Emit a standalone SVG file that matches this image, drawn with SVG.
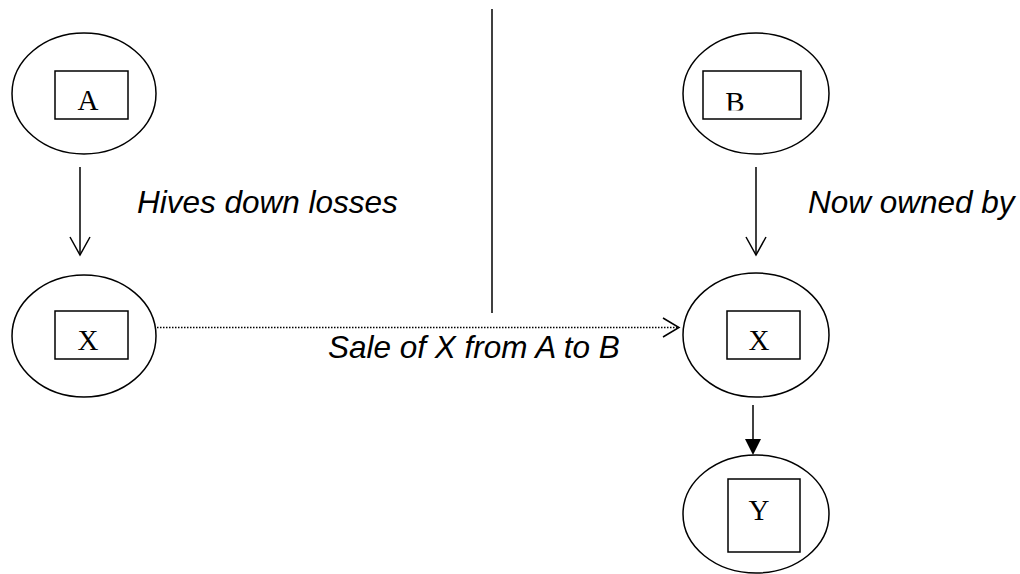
<svg xmlns="http://www.w3.org/2000/svg" width="1020" height="574" viewBox="0 0 1020 574">
<style>
.el{fill:none;stroke:#000;stroke-width:1.5}
.bx{fill:none;stroke:#000;stroke-width:1.5}
.lt{font-family:"Liberation Serif","Times New Roman",serif;font-size:29px;fill:#000;text-anchor:middle}
.lbl{font-family:"Liberation Sans",Arial,sans-serif;font-style:italic;font-size:31.5px;fill:#000}
.ln{fill:none;stroke:#000;stroke-width:1.5}
</style>
<defs>
<clipPath id="clipB"><rect x="700" y="60" width="110" height="50.5"/></clipPath>
</defs>
<rect width="1020" height="574" fill="#fff"/>
<g id="nodeA">
<ellipse class="el" cx="84" cy="93.5" rx="72" ry="60.5"/>
<rect class="bx" x="55" y="71" width="73" height="48"/>
<text class="lt" x="88" y="110">A</text>
</g>
<g id="nodeX1">
<ellipse class="el" cx="84" cy="336" rx="72" ry="61"/>
<rect class="bx" x="55" y="311" width="73" height="48"/>
<text class="lt" x="88" y="350">X</text>
</g>
<g id="nodeB">
<ellipse class="el" cx="756" cy="93.5" rx="73" ry="60.5"/>
<rect class="bx" x="703" y="71" width="98" height="48"/>
<text class="lt" x="735" y="112" clip-path="url(#clipB)">B</text>
</g>
<g id="nodeX2">
<ellipse class="el" cx="756" cy="335" rx="73" ry="62"/>
<rect class="bx" x="727" y="311" width="73" height="48"/>
<text class="lt" x="759" y="350">X</text>
</g>
<g id="nodeY">
<ellipse class="el" cx="756" cy="514" rx="73" ry="59"/>
<rect class="bx" x="728" y="479" width="72" height="73"/>
<text class="lt" x="759" y="520">Y</text>
</g>
<g id="connectors">
<line class="ln" x1="80" y1="167" x2="80" y2="255"/>
<polyline class="ln" points="70,237 80,255 90,237"/>
<line class="ln" x1="756" y1="167" x2="756" y2="255"/>
<polyline class="ln" points="746,237 756,255 766,237"/>
<line x1="157" y1="327.5" x2="678" y2="327.5" stroke="#000" stroke-width="1.5" stroke-dasharray="1.5,1.5"/>
<polyline class="ln" points="663,318 679,327.5 663,337"/>
<line class="ln" x1="492" y1="9" x2="492" y2="313"/>
<line class="ln" x1="753" y1="405" x2="753" y2="440"/>
<polygon points="745,439 761,439 753,455" fill="#000"/>
</g>
<g id="labels">
<text class="lbl" x="137" y="213">Hives down losses</text>
<text class="lbl" x="808" y="213">Now owned by</text>
<text class="lbl" x="328" y="358">Sale of X from A to B</text>
</g>
</svg>
